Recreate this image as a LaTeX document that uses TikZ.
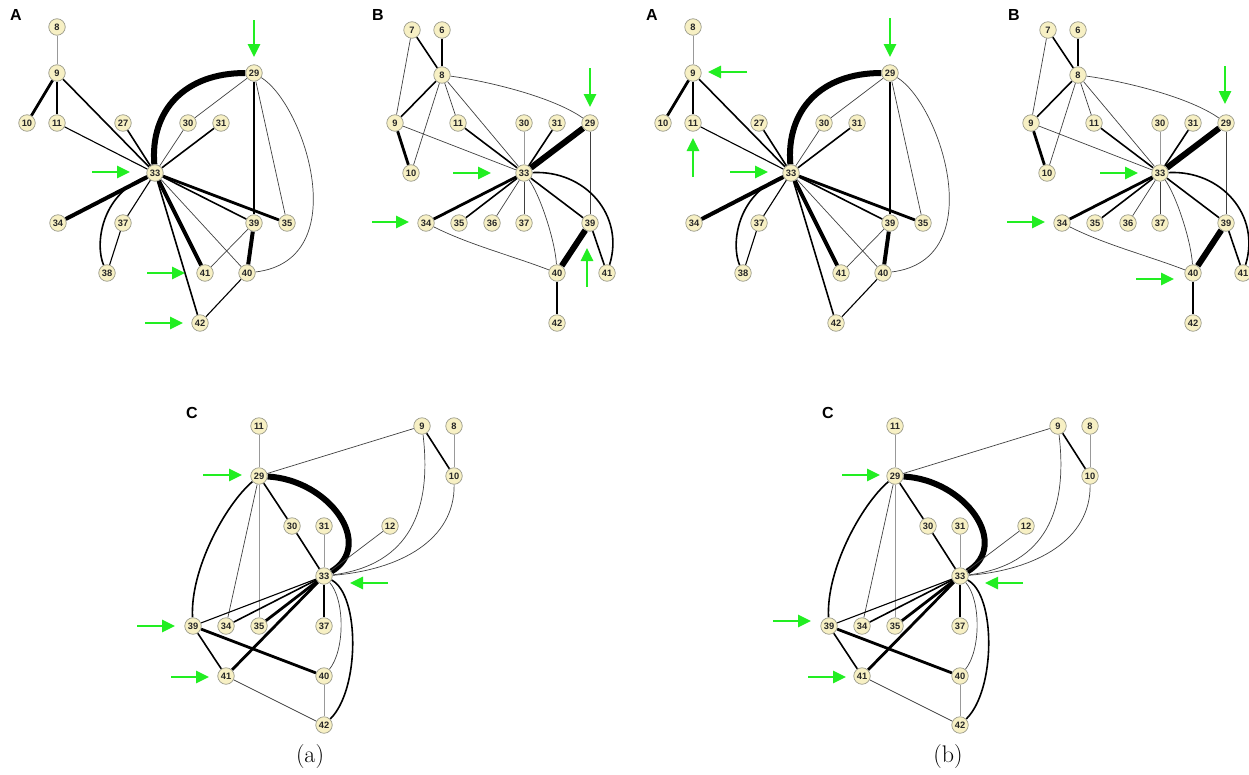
\documentclass[tikz,border=0pt]{standalone}
\usepackage{fontspec}
\newfontfamily\labfont{Liberation Sans}
\usetikzlibrary{arrows.meta}
\definecolor{ndfill}{HTML}{F7F0C4}
\definecolor{ndline}{HTML}{9A9A8A}
\definecolor{agreen}{HTML}{22EE22}
\pgfdeclarelayer{bg}
\pgfsetlayers{bg,main}
\tikzset{
  nd/.style={circle, draw=ndline, line width=0.7pt, fill=ndfill, inner sep=0pt,
    minimum size=16.5pt, text=black!85, font=\labfont\bfseries\fontsize{9.3}{10}\selectfont},
  plab/.style={font=\labfont\bfseries\fontsize{16}{18}\selectfont, inner sep=0pt},
  captxt/.style={font=\fontsize{24}{28}\selectfont, inner sep=0pt},
  e0/.style={draw=gray!80, line width=0.8pt},
  e1/.style={draw=black!75, line width=0.7pt},
  e15/.style={draw=black, line width=1.1pt},
  e2/.style={draw=black, line width=1.6pt},
  e3/.style={draw=black, line width=2.8pt},
  e4/.style={draw=black, line width=4pt},
  e5/.style={draw=black, line width=6pt},
  ga/.style={draw=agreen, line width=2.6pt, -{Triangle[length=13pt,width=12pt]}},
}
\newcommand\panelA{%
  \node[plab] at (16,15) {A};
  \node[nd] (8) at (57,27) {8};
  \node[nd] (9) at (57,73) {9};
  \node[nd] (10) at (27,123) {10};
  \node[nd] (11) at (57,123) {11};
  \node[nd] (27) at (123,123) {27};
  \node[nd] (30) at (188,123) {30};
  \node[nd] (31) at (221,123) {31};
  \node[nd] (29) at (254,73) {29};
  \node[nd] (33) at (155,173) {33};
  \node[nd] (34) at (58,223) {34};
  \node[nd] (37) at (123,223) {37};
  \node[nd] (38) at (107,273) {38};
  \node[nd] (39) at (254,223) {39};
  \node[nd] (35) at (287,223) {35};
  \node[nd] (41) at (205,273) {41};
  \node[nd] (40) at (247,273) {40};
  \node[nd] (42) at (200,323) {42};
  \begin{pgfonlayer}{bg}
    \draw[e0] (8) -- (9);
    \draw[e3] (9) -- (10);
    \draw[e2] (9) -- (11);
    \draw[e2] (9) -- (33);
    \draw[e15] (11) -- (33);
    \draw[e2] (27) -- (33);
    \draw[e5] (29) .. controls (185,73) and (150,110) .. (33);
    \draw[e1] (29) -- (30);
    \draw[e1] (30) -- (33);
    \draw[e2] (31) -- (33);
    \draw[e2] (29) -- (39);
    \draw[e1] (29) -- (35);
    \draw[e1] (29) .. controls (305,105) and (355,260) .. (40);
    \draw[e4] (33) -- (34);
    \draw[e2] (33) .. controls (100,195) and (95,245) .. (38);
    \draw[e15] (33) -- (37);
    \draw[e15] (37) -- (38);
    \draw[e2] (33) -- (39);
    \draw[e3] (33) -- (35);
    \draw[e1] (33) -- (40);
    \draw[e4] (33) -- (41);
    \draw[e2] (33) -- (42);
    \draw[e4] (39) -- (40);
    \draw[e1] (39) -- (41);
    \draw[e15] (40) -- (42);
  \end{pgfonlayer}
}
\newcommand\panelB{%
  \node[plab] at (378,15) {B};
  \node[nd] (7) at (412,30) {7};
  \node[nd] (6) at (442,30) {6};
  \node[nd] (8) at (442,75) {8};
  \node[nd] (9) at (395,123) {9};
  \node[nd] (11) at (458,123) {11};
  \node[nd] (30) at (524,123) {30};
  \node[nd] (31) at (557,123) {31};
  \node[nd] (29) at (590,123) {29};
  \node[nd] (10) at (411,173) {10};
  \node[nd] (33) at (524,173) {33};
  \node[nd] (34) at (426,223) {34};
  \node[nd] (35) at (459,223) {35};
  \node[nd] (36) at (492,223) {36};
  \node[nd] (37) at (524,223) {37};
  \node[nd] (39) at (590,223) {39};
  \node[nd] (40) at (557,273) {40};
  \node[nd] (41) at (607,273) {41};
  \node[nd] (42) at (557,323) {42};
  \begin{pgfonlayer}{bg}
    \draw[e2] (7) -- (8);
    \draw[e2] (6) -- (8);
    \draw[e1] (7) -- (9);
    \draw[e2] (8) -- (9);
    \draw[e1] (8) -- (10);
    \draw[e1] (8) -- (11);
    \draw[e1] (8) -- (33);
    \draw[e1] (8) .. controls (480,80) and (550,95) .. (29);
    \draw[e3] (9) -- (10);
    \draw[e1] (9) -- (33);
    \draw[e2] (11) -- (33);
    \draw[e0] (30) -- (33);
    \draw[e2] (31) -- (33);
    \draw[e5] (29) -- (33);
    \draw[e1] (29) -- (39);
    \draw[e3] (33) -- (34);
    \draw[e2] (33) -- (35);
    \draw[e1] (33) -- (36);
    \draw[e1] (33) -- (37);
    \draw[e2] (33) -- (39);
    \draw[e1] (33) .. controls (540,195) and (555,240) .. (40);
    \draw[e2] (33) .. controls (585,170) and (625,215) .. (41);
    \draw[e1] (34) .. controls (470,245) and (510,255) .. (40);
    \draw[e5] (39) -- (40);
    \draw[e2] (39) -- (41);
    \draw[e2] (40) -- (42);
  \end{pgfonlayer}
}
\newcommand\panelC{%
  \node[plab] at (192,413) {C};
  \node[nd] (11) at (259,426) {11};
  \node[nd] (9) at (422,426) {9};
  \node[nd] (8) at (454,426) {8};
  \node[nd] (29) at (259,476) {29};
  \node[nd] (10) at (454,476) {10};
  \node[nd] (30) at (292,526) {30};
  \node[nd] (31) at (324,526) {31};
  \node[nd] (12) at (390,526) {12};
  \node[nd] (33) at (324,576) {33};
  \node[nd] (39) at (193,626) {39};
  \node[nd] (34) at (226,626) {34};
  \node[nd] (35) at (259,626) {35};
  \node[nd] (37) at (324,626) {37};
  \node[nd] (41) at (226,676) {41};
  \node[nd] (40) at (324,676) {40};
  \node[nd] (42) at (324,725) {42};
  \begin{pgfonlayer}{bg}
    \draw[e0] (11) -- (29);
    \draw[e1] (29) -- (9);
    \draw[e2] (9) -- (10);
    \draw[e0] (8) -- (10);
    \draw[e5] (29) .. controls (330,480) and (375,545) .. (33);
    \draw[e2] (29) -- (30);
    \draw[e2] (29) .. controls (225,505) and (190,570) .. (39);
    \draw[e1] (29) -- (34);
    \draw[e0] (29) -- (35);
    \draw[e2] (30) -- (33);
    \draw[e0] (31) -- (33);
    \draw[e1] (12) -- (33);
    \draw[e1] (9) .. controls (432,510) and (410,565) .. (33);
    \draw[e1] (10) .. controls (455,540) and (400,570) .. (33);
    \draw[e15] (33) -- (39);
    \draw[e2] (33) -- (34);
    \draw[e3] (33) -- (35);
    \draw[e2] (33) -- (37);
    \draw[e3] (33) -- (41);
    \draw[e1] (33) .. controls (345,600) and (345,650) .. (40);
    \draw[e2] (33) .. controls (360,595) and (360,690) .. (42);
    \draw[e3] (39) -- (40);
    \draw[e2] (39) -- (41);
    \draw[e1] (41) -- (42);
    \draw[e0] (40) -- (42);
  \end{pgfonlayer}
}
\begin{document}
\begin{tikzpicture}[x=1pt,y=-1pt]
  \useasboundingbox (0,0) rectangle (1249,774);
  % ---- left half (a) ----
  \begin{scope}[name prefix=a-]
    \panelA
    \coordinate (p1s) at (254,20); \coordinate (p1e) at (254,57);
    \coordinate (p2s) at (92,172); \coordinate (p2e) at (130,172);
    \coordinate (p3s) at (147,273); \coordinate (p3e) at (185,273);
    \coordinate (p4s) at (145,323); \coordinate (p4e) at (183,323);
    \draw[ga] (p1s) -- (p1e);
    \draw[ga] (p2s) -- (p2e);
    \draw[ga] (p3s) -- (p3e);
    \draw[ga] (p4s) -- (p4e);
  \end{scope}
  \begin{scope}[name prefix=b-]
    \panelB
    \coordinate (p1s) at (590,68); \coordinate (p1e) at (590,107);
    \coordinate (p2s) at (453,173); \coordinate (p2e) at (491,173);
    \coordinate (p3s) at (372,222); \coordinate (p3e) at (409,222);
    \coordinate (p4s) at (587,287); \coordinate (p4e) at (587,248);
    \draw[ga] (p1s) -- (p1e);
    \draw[ga] (p2s) -- (p2e);
    \draw[ga] (p3s) -- (p3e);
    \draw[ga] (p4s) -- (p4e);
  \end{scope}
  \begin{scope}[name prefix=c-]
    \panelC
    \coordinate (p1s) at (203,475); \coordinate (p1e) at (242,475);
    \coordinate (p2s) at (388,583); \coordinate (p2e) at (350,583);
    \coordinate (p3s) at (137,626); \coordinate (p3e) at (175,626);
    \coordinate (p4s) at (171,677); \coordinate (p4e) at (209,677);
    \draw[ga] (p1s) -- (p1e);
    \draw[ga] (p2s) -- (p2e);
    \draw[ga] (p3s) -- (p3e);
    \draw[ga] (p4s) -- (p4e);
  \end{scope}
  \node[captxt] (capa) at (310,756) {(a)};
  % ---- right half (b) ----
  \begin{scope}[shift={(636,0)}, name prefix=d-]
    \panelA
    \coordinate (p1s) at (254,18); \coordinate (p1e) at (254,57);
    \coordinate (p2s) at (111,72); \coordinate (p2e) at (72,72);
    \coordinate (p3s) at (57,177); \coordinate (p3e) at (57,138);
    \coordinate (p4s) at (94,172); \coordinate (p4e) at (132,172);
    \draw[ga] (p1s) -- (p1e);
    \draw[ga] (p2s) -- (p2e);
    \draw[ga] (p3s) -- (p3e);
    \draw[ga] (p4s) -- (p4e);
  \end{scope}
  \begin{scope}[shift={(636,0)}, name prefix=e-]
    \panelB
    \coordinate (p1s) at (589,66); \coordinate (p1e) at (589,104);
    \coordinate (p2s) at (464,173); \coordinate (p2e) at (502,173);
    \coordinate (p3s) at (371,222); \coordinate (p3e) at (409,222);
    \coordinate (p4s) at (500,279); \coordinate (p4e) at (538,279);
    \draw[ga] (p1s) -- (p1e);
    \draw[ga] (p2s) -- (p2e);
    \draw[ga] (p3s) -- (p3e);
    \draw[ga] (p4s) -- (p4e);
  \end{scope}
  \begin{scope}[shift={(636,0)}, name prefix=f-]
    \panelC
    \coordinate (p1s) at (206,475); \coordinate (p1e) at (244,475);
    \coordinate (p2s) at (387,583); \coordinate (p2e) at (349,583);
    \coordinate (p3s) at (137,621); \coordinate (p3e) at (175,621);
    \coordinate (p4s) at (172,677); \coordinate (p4e) at (210,677);
    \draw[ga] (p1s) -- (p1e);
    \draw[ga] (p2s) -- (p2e);
    \draw[ga] (p3s) -- (p3e);
    \draw[ga] (p4s) -- (p4e);
  \end{scope}
  \node[captxt] (capb) at (948,756) {(b)};
\end{tikzpicture}
\end{document}
